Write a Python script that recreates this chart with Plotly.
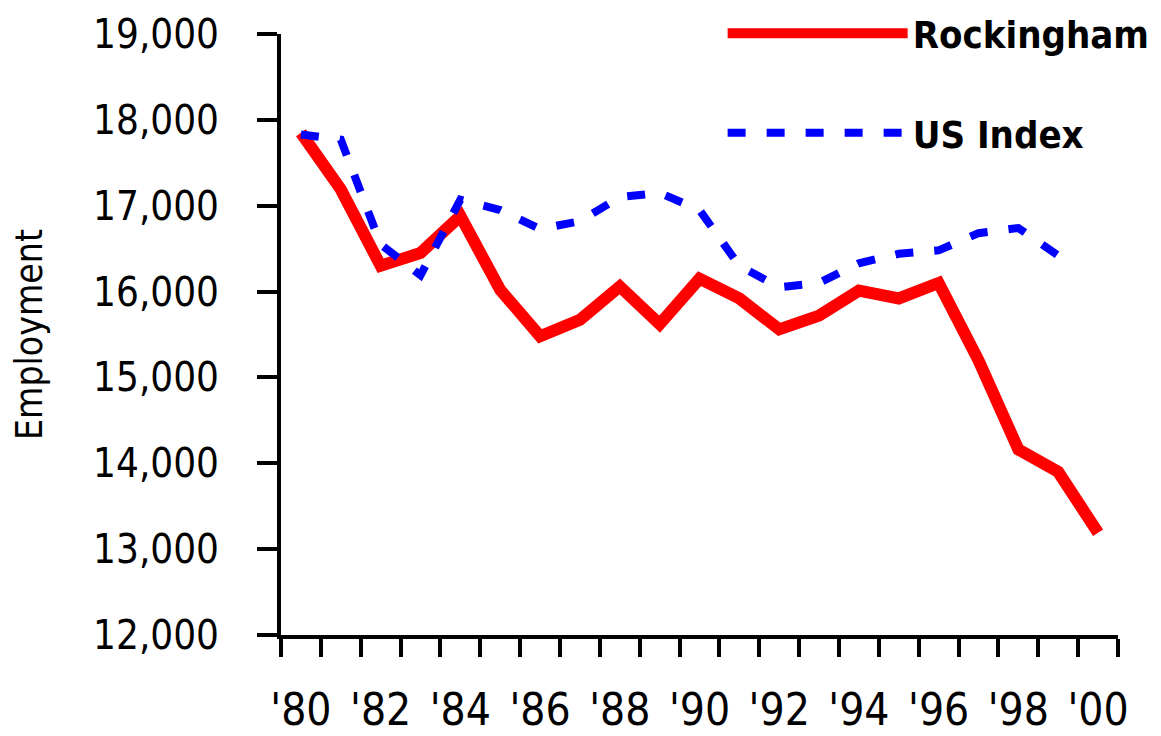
import plotly.graph_objects as go

years = list(range(1980, 2001))
year_labels = ["'80", "'81", "'82", "'83", "'84", "'85", "'86", "'87", "'88", "'89", "'90",
               "'91", "'92", "'93", "'94", "'95", "'96", "'97", "'98", "'99", "'00"]
rockingham = [17850, 17190, 16300, 16450, 16880, 16020, 15480, 15670, 16060, 15620, 16150,
              15920, 15560, 15720, 16010, 15920, 16100, 15200, 14160, 13900, 13190]
us_index = [17830, 17770, 16550, 16190, 17070, 16950, 16730, 16820, 17100, 17150, 16950,
            16300, 16050, 16100, 16330, 16440, 16480, 16680, 16740, 16420, None]
y_ticks = [12000, 13000, 14000, 15000, 16000, 17000, 18000, 19000]

NARROW = "DejaVu Sans Condensed, DejaVu Sans, sans-serif"

fig = go.Figure()
fig.add_trace(go.Scatter(x=years, y=rockingham, name="Rockingham", mode="lines",
                         line=dict(color="#ff0000", width=12), legendgroup="a"))
fig.add_trace(go.Scatter(x=years, y=us_index, name="US Index", mode="lines",
                         line=dict(color="#0000ff", width=8, dash="18px,21px"),
                         legendgroup="b", connectgaps=False))

boundaries = [y - 0.5 for y in years] + [years[-1] + 0.5]

fig.update_layout(
    width=1153, height=728,
    margin=dict(l=273, r=43, t=26, b=101, autoexpand=False),
    paper_bgcolor="white", plot_bgcolor="white",
    showlegend=True,
    legend=dict(xref="container", yref="paper", x=0.6198, y=1.053,
                xanchor="left", yanchor="top", itemwidth=180, tracegroupgap=47,
                font=dict(family=NARROW, size=38, color="black", weight="bold"),
                bgcolor="rgba(0,0,0,0)"),
    xaxis=dict(range=[years[0] - 0.5, years[-1] + 0.5], showgrid=False, zeroline=False,
               showline=True, linecolor="black", linewidth=4,
               tickmode="array", tickvals=years[::2], ticktext=year_labels[::2],
               ticks="", ticklabelstandoff=33, tickangle=0,
               tickfont=dict(family=NARROW, size=44, color="black"),
               minor=dict(tickmode="array", tickvals=boundaries, ticks="outside",
                          ticklen=18, tickwidth=4, tickcolor="black", showgrid=False)),
    yaxis=dict(range=[12000, 19000], showgrid=False, zeroline=False,
               showline=True, linecolor="black", linewidth=4,
               tickmode="array", tickvals=y_ticks, tickformat=",d",
               ticks="outside", ticklen=20, tickwidth=4, tickcolor="black",
               ticklabelstandoff=30,
               tickfont=dict(family=NARROW, size=40, color="black"),
               title=dict(text="Employment", standoff=48,
                          font=dict(family=NARROW, size=37, color="black"))),
)

fig.write_html("out.html")
